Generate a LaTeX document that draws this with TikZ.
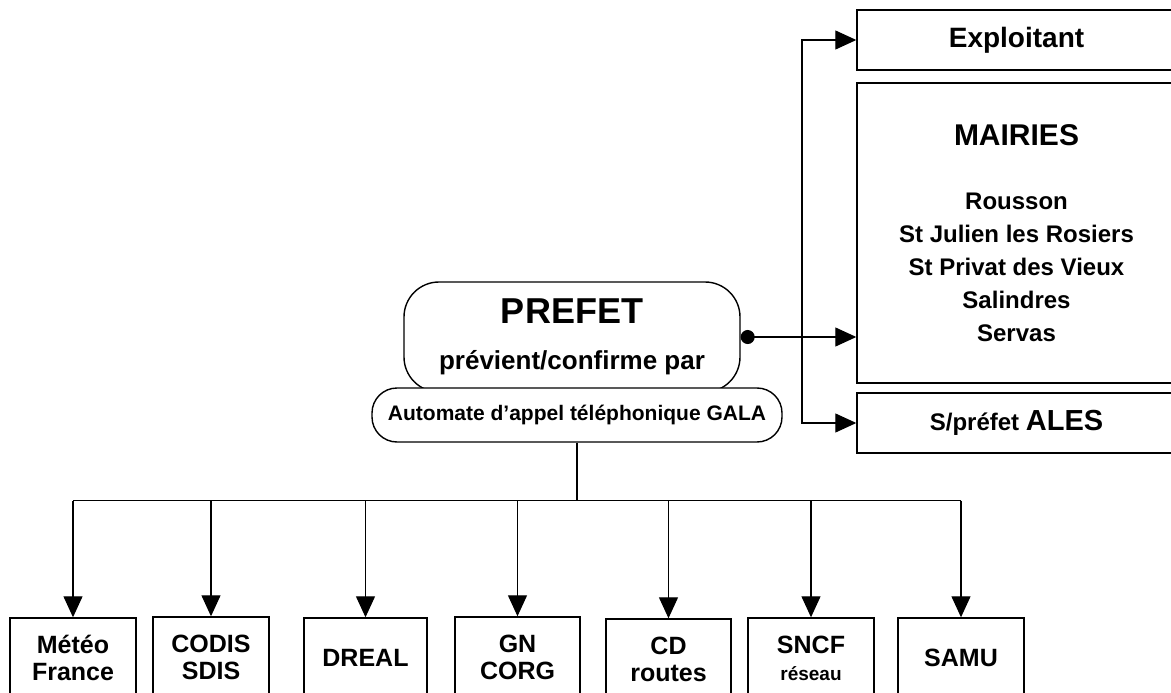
\documentclass[tikz,border=0pt]{standalone}
\usepackage{fontspec}
\setmainfont{Liberation Sans}
\usetikzlibrary{arrows.meta,positioning}
\newcommand{\fs}[2]{\fontsize{#1}{#2}\selectfont}

\begin{document}
\begin{tikzpicture}[x=1pt, y=-1pt, line width=1.2pt,
    box/.style={draw, line width=1.4pt, inner sep=0pt, align=center},
    fleche/.style={-{Triangle[length=21pt,width=19pt]}},
    bas/.style={box, minimum width=125pt, minimum height=80pt, font=\bfseries\fs{25}{27}}]
\useasboundingbox (0,0) rectangle (1171,693);

\node[box, rounded corners=35pt, minimum width=336pt, minimum height=110pt, font=\bfseries\fs{26}{46}] (prefet) at (572,337) {{\fs{36}{40}PREFET}\\prévient/confirme par};
\node[box, fill=white, rounded corners=25pt, minimum width=410pt, minimum height=54pt, font=\bfseries\fs{21}{24}] (gala) at (577,415) {Automate d’appel téléphonique GALA};

\node[box, minimum width=319pt, minimum height=60pt, font=\bfseries\fs{28}{30}] (exploitant) at (1016.5,40) {Exploitant};
\node[box, minimum width=319pt, minimum height=300pt, font=\bfseries\fs{24}{33}] (mairies) at (1016.5,233) {{\fs{30}{33}MAIRIES}\\[31pt]Rousson\\St Julien les Rosiers\\St Privat des Vieux\\Salindres\\Servas};
\node[box, minimum width=319pt, minimum height=60pt, font=\bfseries\fs{24}{30}] (ales) at (1016.5,423) {S/préfet {\fs{29}{30}ALES}};

\node[bas, minimum width=126pt] (meteo) at (73,658) {Météo\\France};
\node[bas, minimum width=116pt] (codis) at (211,657) {CODIS\\SDIS};
\node[bas, minimum width=123pt] (dreal) at (365.5,658) {DREAL};
\node[bas] (gn) at (517.5,657) {GN\\CORG};
\node[bas] (cd) at (668.5,659) {CD\\routes};
\node[bas, minimum width=126pt] (sncf) at (811,658) {SNCF\\{\fs{19}{27}réseau}};
\node[bas, minimum width=126pt] (samu) at (961,658) {SAMU};

% vers les services
\draw (gala.south) -- ++(0,58) coordinate (bus);
\draw (bus -| meteo.north) -- (bus -| samu.north);
\foreach \b in {meteo,codis,dreal,gn,cd,sncf,samu}
  \draw[fleche] (bus -| \b.north) -- (\b.north);

% vers les mairies
\coordinate (split) at (802,335);
\draw[{Circle[length=14pt]}-{Triangle[length=21pt,width=19pt]}] (prefet.east) -- (prefet.east -| mairies.west);
\draw[fleche] (split) |- (exploitant.west);
\draw[fleche] (split) |- (ales.west);

\end{tikzpicture}
\end{document}
